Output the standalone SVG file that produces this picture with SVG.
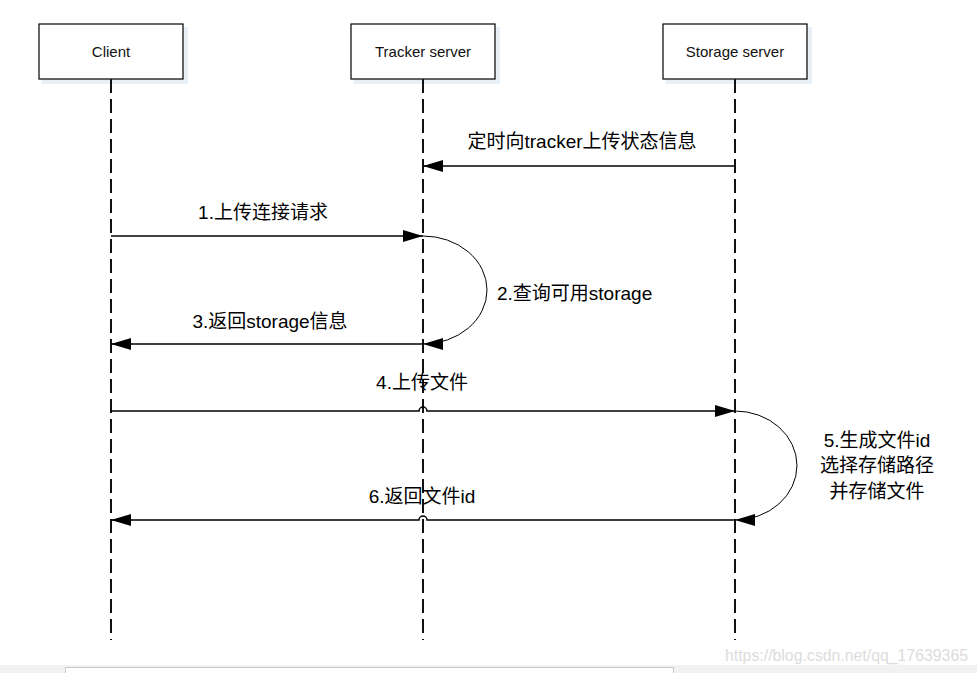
<svg xmlns="http://www.w3.org/2000/svg" width="977" height="673" viewBox="0 0 977 673">
  <style>
    .box { fill: #ffffff; stroke: #000000; stroke-width: 1.2; }
    .shadow { fill: #dfe8f3; opacity: 0.7; }
    .name { font-family: "Liberation Sans", "Noto Sans", sans-serif; font-size: 15px; fill: #111111; text-anchor: middle; }
    .lifeline { stroke: #111111; stroke-width: 2; stroke-dasharray: 14 6; fill: none; }
    .msg { stroke: #000000; stroke-width: 1.5; fill: none; }
    .loop { stroke: #000000; stroke-width: 1; fill: none; }
    .label { font-family: "Liberation Sans", "Noto Sans CJK SC", sans-serif; font-size: 19px; fill: #000000; text-anchor: middle; }
    .label.left { text-anchor: start; }
    .mark { font-family: "Liberation Sans", sans-serif; font-size: 16px; fill: #dcdcdc; }
  </style>
  <defs>
    <marker id="head" viewBox="0 0 20 12" refX="20" refY="6" markerWidth="20" markerHeight="12" markerUnits="userSpaceOnUse" orient="auto">
      <path d="M0,0 L20,6 L0,12 Z" fill="#000000"/>
    </marker>
  </defs>

  <rect width="977" height="673" fill="#ffffff"/>

  <!-- participants -->
  <g id="client">
    <rect class="shadow" x="42" y="27" width="146" height="57"/>
    <rect class="box" x="39" y="24" width="144" height="55"/>
    <text class="name" x="111" y="57">Client</text>
  </g>
  <g id="tracker">
    <rect class="shadow" x="354" y="27" width="146" height="57"/>
    <rect class="box" x="351" y="24" width="144" height="55"/>
    <text class="name" x="423" y="57">Tracker server</text>
  </g>
  <g id="storage">
    <rect class="shadow" x="666" y="27" width="146" height="57"/>
    <rect class="box" x="663" y="24" width="144" height="55"/>
    <text class="name" x="735" y="57">Storage server</text>
  </g>

  <!-- lifelines and messages -->
  <g id="connectors">
    <line class="lifeline" x1="111" y1="79" x2="111" y2="640"/>
    <line class="lifeline" x1="423" y1="79" x2="423" y2="640"/>
    <line class="lifeline" x1="735" y1="79" x2="735" y2="640"/>

    <line class="msg" x1="735" y1="166" x2="423" y2="166" marker-end="url(#head)"/>
    <line class="msg" x1="111" y1="236" x2="423" y2="236" marker-end="url(#head)"/>
    <path class="loop" d="M423,236 A64,54 0 0 1 423,344" marker-end="url(#head)"/>
    <line class="msg" x1="423" y1="344" x2="111" y2="344" marker-end="url(#head)"/>
    <path class="msg" d="M111,411 H419 A4,4 0 0 1 427,411 H735" marker-end="url(#head)"/>
    <path class="loop" d="M735,411 A62,54.5 0 0 1 735,520" marker-end="url(#head)"/>
    <path class="msg" d="M735,520 H427 A4,4 0 0 0 419,520 H111" marker-end="url(#head)"/>
  </g>

  <!-- message labels -->
  <g id="labels">
    <text class="label" x="582" y="148">定时向tracker上传状态信息</text>
    <text class="label" x="263" y="219">1.上传连接请求</text>
    <text class="label left" x="497" y="300">2.查询可用storage</text>
    <text class="label" x="270" y="328">3.返回storage信息</text>
    <text class="label" x="422" y="389">4.上传文件</text>
    <text class="label" x="877" y="447">5.生成文件id</text>
    <text class="label" x="877" y="472">选择存储路径</text>
    <text class="label" x="877" y="498">并存储文件</text>
    <text class="label" x="422" y="503">6.返回文件id</text>
  </g>

  <!-- page footer -->
  <rect x="0" y="665" width="977" height="8" fill="#f2f2f2"/>
  <rect x="65.5" y="667.5" width="608" height="10" fill="#ffffff" stroke="#c8c8c8"/>
  <text class="mark" x="725" y="661" textLength="243" lengthAdjust="spacingAndGlyphs">https://blog.csdn.net/qq_17639365</text>
</svg>
